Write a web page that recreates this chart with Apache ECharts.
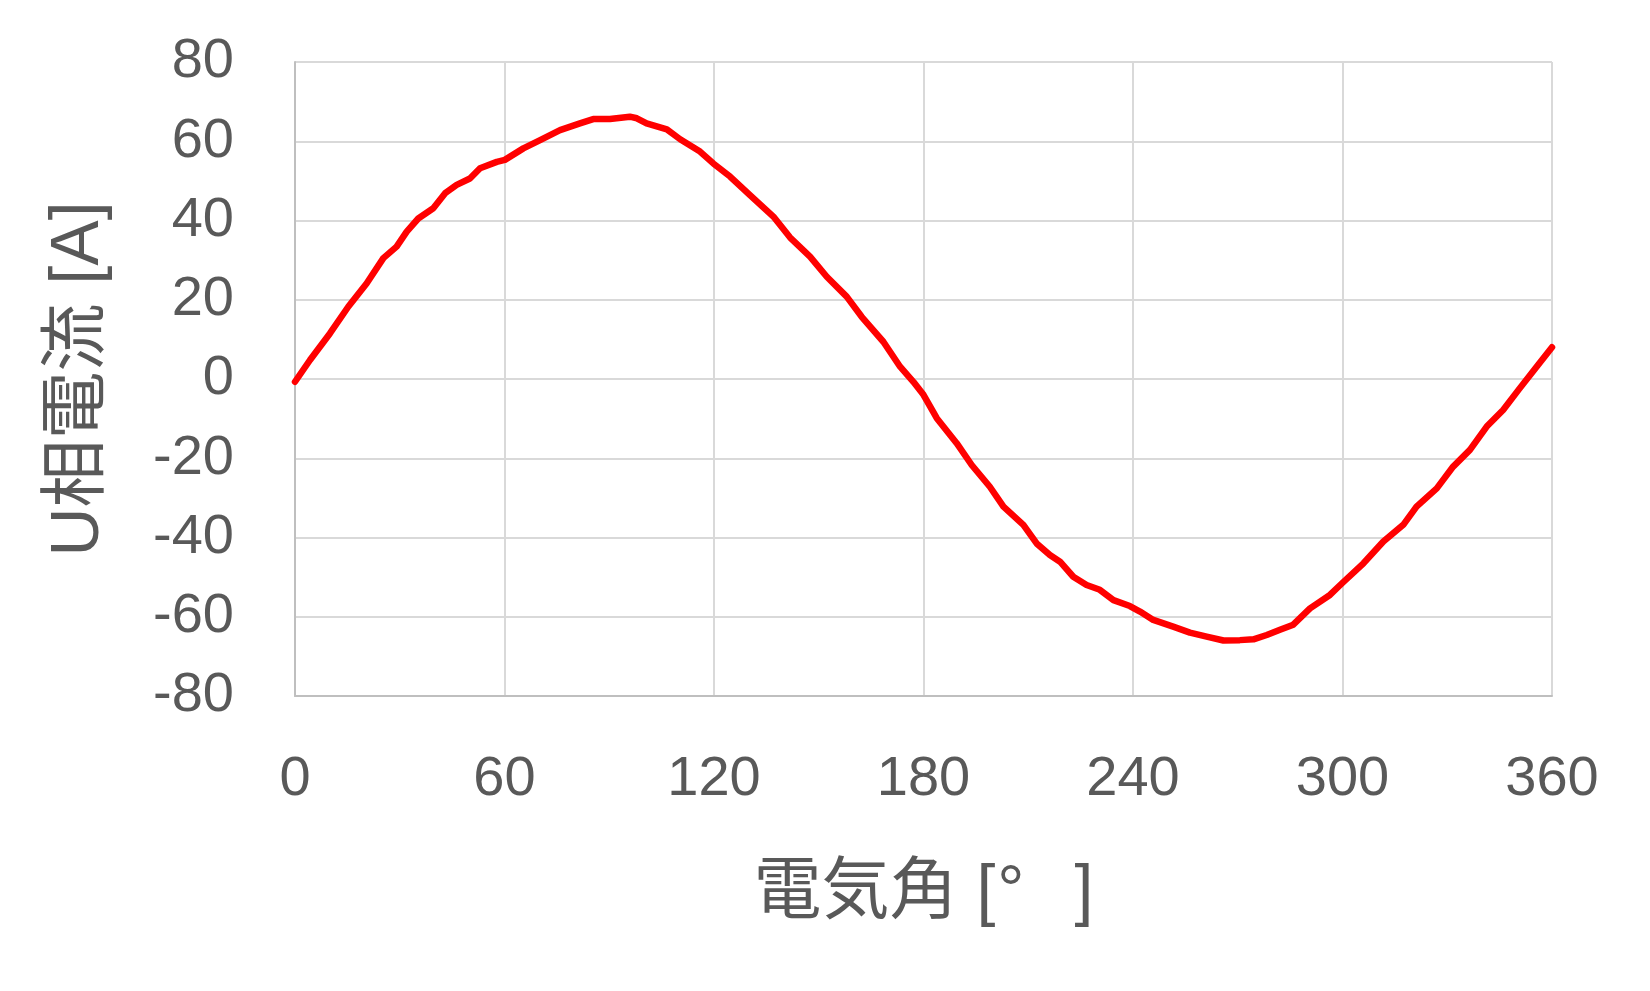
<!DOCTYPE html>
<html>
<head>
<meta charset="utf-8">
<script src="https://cdn.jsdelivr.net/npm/echarts@6/dist/echarts.min.js"></script>
<style>
html,body{margin:0;padding:0;background:#fff;}
#chart{width:1650px;height:991px;}
</style>
</head>
<body>
<div id="chart"></div>
<script>
// Electrical angle [deg]
const angles = [0,4.3,10,15.3,20.5,25.3,29.1,32,35.3,39.6,43,46.3,50.1,53,57.8,60.1,65.4,70.2,75.9,81.6,85.4,90.2,95.9,97.9,100.7,106.5,110.3,116,119.8,124.6,130.3,137,141.8,147.5,152.3,158,162.3,168.5,173.3,177.1,180,183.8,189.5,193.8,199,202.9,208.6,212.4,216.2,219.1,222.9,226.7,230.5,234.4,239.1,242,245.8,251.5,256.3,261.1,265.9,270.6,274.5,278.3,282.1,285.9,290.7,296.4,299.8,306,311.7,317.4,321.2,327,331.7,336.5,341.3,346,350.8,355.6,360];
// U-phase current [A]
const currentU = [-0.7,4.8,11.5,18.3,24.1,30.5,33.4,37.2,40.5,43.1,46.9,49.0,50.6,53.2,54.8,55.3,58.2,60.3,62.8,64.5,65.6,65.6,66.2,65.8,64.5,63.0,60.5,57.4,54.4,51.1,46.4,41.0,35.7,30.9,25.8,20.8,15.7,9.4,3.1,-0.7,-4.0,-9.9,-16.2,-21.7,-27.2,-32.2,-36.8,-41.5,-44.4,-46.1,-49.9,-52.0,-53.2,-55.8,-57.3,-58.7,-60.8,-62.5,-64.0,-65.0,-66.0,-65.9,-65.7,-64.6,-63.3,-62.0,-57.9,-54.5,-51.6,-46.5,-41.0,-36.8,-32.2,-27.6,-22.1,-17.9,-12.0,-7.8,-2.3,3.1,8.0];
const xTicks = [0,60,120,180,240,300,360];
const yTicks = [-80,-60,-40,-20,0,20,40,60,80];
const xNameMain = '電気角 [';
const xNameDeg = '°';
const xNameEnd = ']';
const yName = 'U相電流 [A]';

const chart = echarts.init(document.getElementById('chart'), null, {renderer:'canvas'});
const textColor = '#595959';
const fontFam = '"Liberation Sans", Arial, "Noto Sans CJK JP", sans-serif';
chart.setOption({
  animation:false,
  backgroundColor:'#ffffff',
  grid:{left:295,right:98,top:62,bottom:295,containLabel:false},
  xAxis:{
    type:'value',min:xTicks[0],max:xTicks[xTicks.length-1],interval:60,
    name:xNameMain+'{deg|'+xNameDeg+'}'+xNameEnd,nameLocation:'middle',nameGap:164,
    nameTextStyle:{color:textColor,fontSize:68,fontFamily:fontFam,
      rich:{deg:{color:textColor,fontSize:68,fontFamily:fontFam,padding:[0,50,0,2]}}},
    axisLine:{show:true,onZero:false,lineStyle:{color:'#bfbfbf',width:2}},
    axisTick:{show:false},
    axisLabel:{color:textColor,fontSize:56,fontFamily:fontFam,margin:56},
    splitLine:{show:true,lineStyle:{color:'#d9d9d9',width:2}}
  },
  yAxis:{
    type:'value',min:yTicks[0],max:yTicks[yTicks.length-1],interval:20,
    name:yName,nameLocation:'middle',nameGap:182,nameRotate:90,
    nameTextStyle:{color:textColor,fontSize:68,fontFamily:fontFam},
    axisLine:{show:true,onZero:false,lineStyle:{color:'#bfbfbf',width:2}},
    axisTick:{show:false},
    axisLabel:{color:textColor,fontSize:56,fontFamily:fontFam,margin:61},
    splitLine:{show:true,lineStyle:{color:'#d9d9d9',width:2}}
  },
  series:[{
    type:'line',
    data:angles.map((a,i)=>[a,currentU[i]]),
    showSymbol:false,symbol:'none',smooth:false,
    lineStyle:{color:'#ff0000',width:6.5,cap:'round',join:'round'},
    z:5
  }]
});
</script>
</body>
</html>
